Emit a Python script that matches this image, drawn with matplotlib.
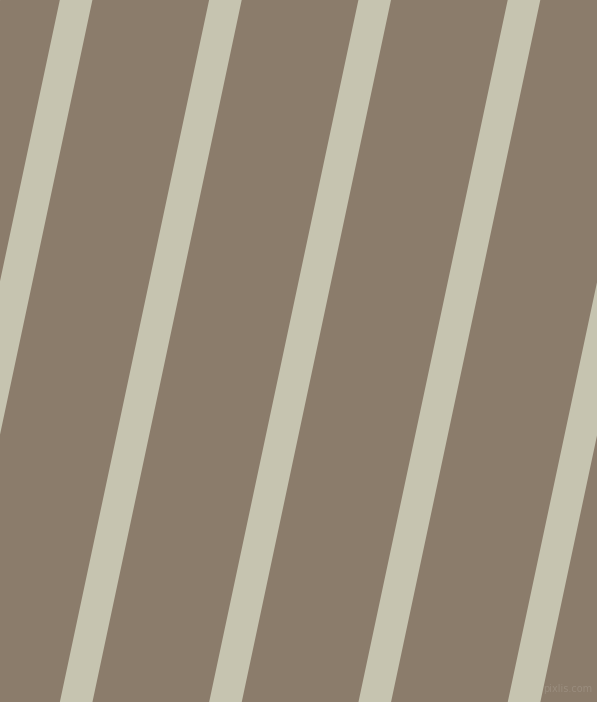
import numpy as np
import matplotlib
matplotlib.use("Agg")
import matplotlib.pyplot as plt
from matplotlib.patches import Polygon

# left edge of each stripe where it meets the top edge (px)
stripe_starts = [-89.5, 59.8, 209.1, 358.4, 507.7, 657.0]
stripe_width = 32.6      # horizontal width of a stripe
lean = 0.2126            # shift left per pixel down (tan 12 deg)

W, H = 597, 702
bg_color = "#8b7c6b"
stripe_color = "#c6c4b0"

fig = plt.figure(figsize=(W / 100, H / 100), dpi=100)
ax = fig.add_axes([0, 0, 1, 1])
ax.set_xlim(0, W)
ax.set_ylim(H, 0)
ax.axis("off")
ax.add_patch(plt.Rectangle((0, 0), W, H, color=bg_color, zorder=0))

for x0 in stripe_starts:
    x_bot = x0 - lean * H
    pts = [(x0, 0), (x0 + stripe_width, 0),
           (x_bot + stripe_width, H), (x_bot, H)]
    ax.add_patch(Polygon(pts, closed=True, color=stripe_color, lw=0, zorder=1))

ax.text(592, 694, "pixlis.com", ha="right", va="bottom", fontsize=7,
        color="#9a8d7e", zorder=2)

fig.savefig("out.png", dpi=100)
